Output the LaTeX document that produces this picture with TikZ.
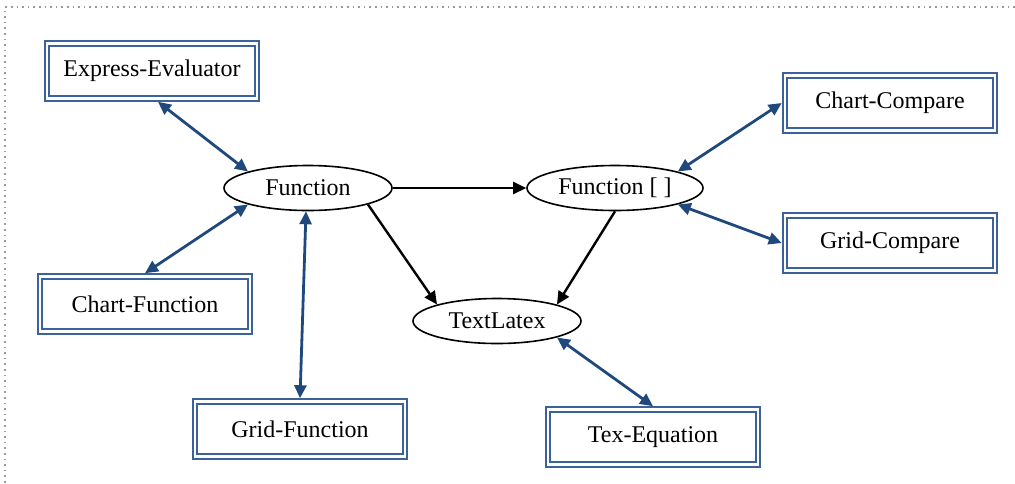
\documentclass[tikz,border=0pt]{standalone}
\usepackage{fontspec}
\setmainfont{Liberation Serif}
\usepackage{xcolor}
\usetikzlibrary{arrows.meta,shapes.geometric}
\definecolor{boxBlue}{HTML}{3C6399}
\definecolor{arrBlue}{HTML}{1F497D}
\definecolor{frameGray}{HTML}{9A9A9A}

\begin{document}
\begin{tikzpicture}[x=0.5pt, y=-0.5pt, font=\fontsize{12}{14}\selectfont,
  >={Triangle[length=6.5pt,width=6pt]},
  modbox/.style={rectangle,draw=boxBlue,line width=1.1pt,double=white,double distance=1.1pt,
    minimum width=105pt,minimum height=27.5pt,inner sep=0pt,outer sep=1.65pt},
  fnode/.style={ellipse,draw,line width=0.8pt,minimum width=84pt,minimum height=22.5pt,inner sep=0pt},
  link/.style={arrBlue,line width=1.4pt,<->},
  flow/.style={black,line width=1.2pt,->}]
\useasboundingbox (0,0) rectangle (1015,483);
% --- dotted frame (top and left only) ---
\draw[frameGray,dotted,line width=0.8pt] (1015,7) -- (5,7) -- (5,483);
% --- modules ---
\node[modbox] (ee) at (152,71) {Express-Evaluator};
\node[modbox] (cf) at (145,304) {Chart-Function};
\node[modbox] (gf) at (300,429) {Grid-Function};
\node[modbox] (cc) at (890,103) {Chart-Compare};
\node[modbox] (gc) at (890,243) {Grid-Compare};
\node[modbox] (te) at (653,437) {Tex-Equation};
% --- core ---
\node[fnode] (fn) at (308,188) {Function};
\node[fnode,minimum width=88pt] (fa) at (615,188) {Function [ ]};
\node[fnode] (tl) at (497,321) {TextLatex};
% --- links ---
\draw[link] ([xshift=3pt]ee.south) -- (fn.north west);
\draw[link] (cf.north) -- (fn.south west);
\draw[link] (gf.north) -- ([xshift=-1pt]fn.south);
\draw[flow] (fn.east) -- (fa.west);
\draw[flow] (fn.south east) -- (tl.north west);
\draw[flow] (fa.south) -- (tl.north east);
\draw[link] (cc.west) -- (fa.north east);
\draw[link] (gc.west) -- (fa.south east);
\draw[link] (tl.south east) -- (te.north);
\end{tikzpicture}
\end{document}
